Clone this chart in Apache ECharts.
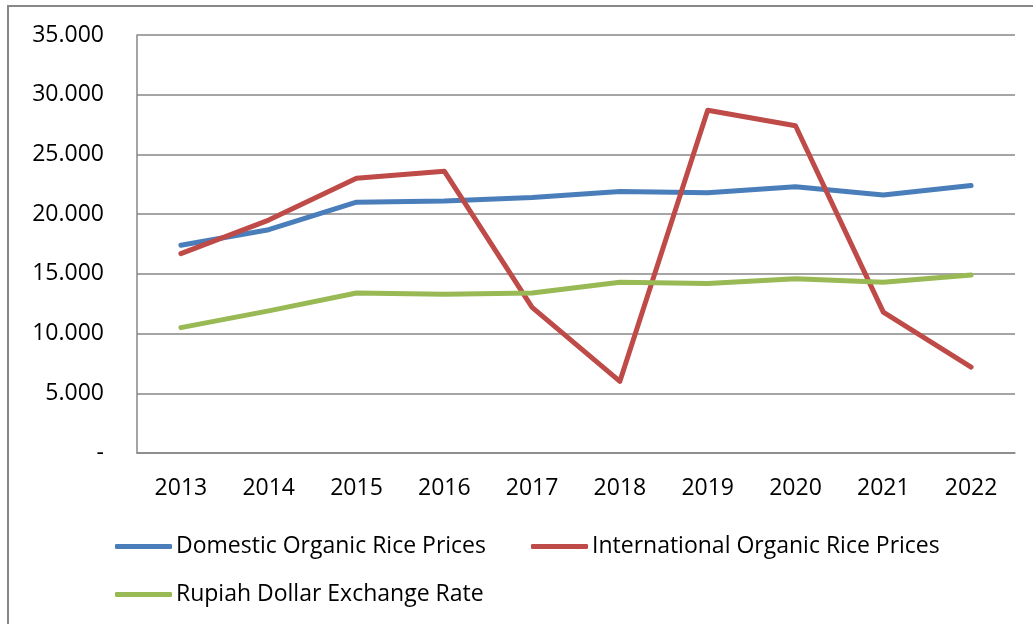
<!DOCTYPE html>
<html>
<head>
<meta charset="utf-8">
<script src="https://cdn.jsdelivr.net/npm/echarts@6/dist/echarts.min.js"></script>
<style>
  html, body { margin: 0; padding: 0; background: #fff; }
  #chart { width: 1033px; height: 624px; }
</style>
</head>
<body>
<div id="chart"></div>
<script>
const years = ["2013", "2014", "2015", "2016", "2017", "2018", "2019", "2020", "2021", "2022"];
const domesticPrices = [17400, 18700, 21000, 21100, 21400, 21900, 21800, 22300, 21600, 22400];
const internationalPrices = [16700, 19500, 23000, 23600, 12200, 6000, 28700, 27400, 11800, 7200];
const exchangeRate = [10500, 11900, 13400, 13300, 13400, 14300, 14200, 14600, 14300, 14900];

const font = '"Open Sans", "Liberation Sans", sans-serif';
const gray = "#878787";
const fs = 23;

const chart = echarts.init(document.getElementById("chart"));

function lineSeries(name, data, color) {
  return {
    name: name,
    type: "line",
    data: data,
    symbol: "none",
    color: color,
    lineStyle: { width: 5, color: color, cap: "round", join: "round" },
    animation: false,
  };
}

chart.setOption({
  animation: false,
  textStyle: { fontFamily: font, color: "#000" },
  graphic: [
    {
      // outer frame of the figure
      type: "rect",
      shape: { x: 8, y: 6, width: 1040, height: 640 },
      style: { fill: "none", stroke: gray, lineWidth: 2 },
      silent: true,
    },
  ],
  grid: { left: 137, right: 18, top: 35, bottom: 171 },
  xAxis: {
    type: "category",
    data: years,
    boundaryGap: true,
    axisLine: { lineStyle: { color: gray, width: 1.5 } },
    axisTick: { show: false },
    axisLabel: { color: "#000", fontSize: fs, fontFamily: font, margin: 24 },
  },
  yAxis: {
    type: "value",
    min: 0,
    max: 35000,
    interval: 5000,
    axisLine: { show: true, lineStyle: { color: gray, width: 1.5 } },
    axisTick: { show: false },
    splitLine: { lineStyle: { color: gray, width: 1.5 } },
    axisLabel: {
      color: "#000",
      fontSize: fs,
      fontFamily: font,
      margin: 33,
      formatter: (v) => (v === 0 ? "-" : (v / 1000).toFixed(3)),
    },
  },
  legend: [
    {
      data: ["Domestic Organic Rice Prices", "International Organic Rice Prices"],
      left: 115,
      top: 535,
      padding: 0,
      icon: "roundRect",
      itemWidth: 57,
      itemHeight: 5,
      itemGap: 45,
      textStyle: { fontSize: fs, fontFamily: font, color: "#000", padding: [0, 0, 0, -1] },
    },
    {
      data: ["Rupiah Dollar Exchange Rate"],
      left: 115,
      top: 583,
      padding: 0,
      icon: "roundRect",
      itemWidth: 57,
      itemHeight: 5,
      textStyle: { fontSize: fs, fontFamily: font, color: "#000", padding: [0, 0, 0, -1] },
    },
  ],
  series: [
    lineSeries("Domestic Organic Rice Prices", domesticPrices, "#4a7ebb"),
    lineSeries("International Organic Rice Prices", internationalPrices, "#be4b48"),
    lineSeries("Rupiah Dollar Exchange Rate", exchangeRate, "#98b954"),
  ],
});
</script>
</body>
</html>
